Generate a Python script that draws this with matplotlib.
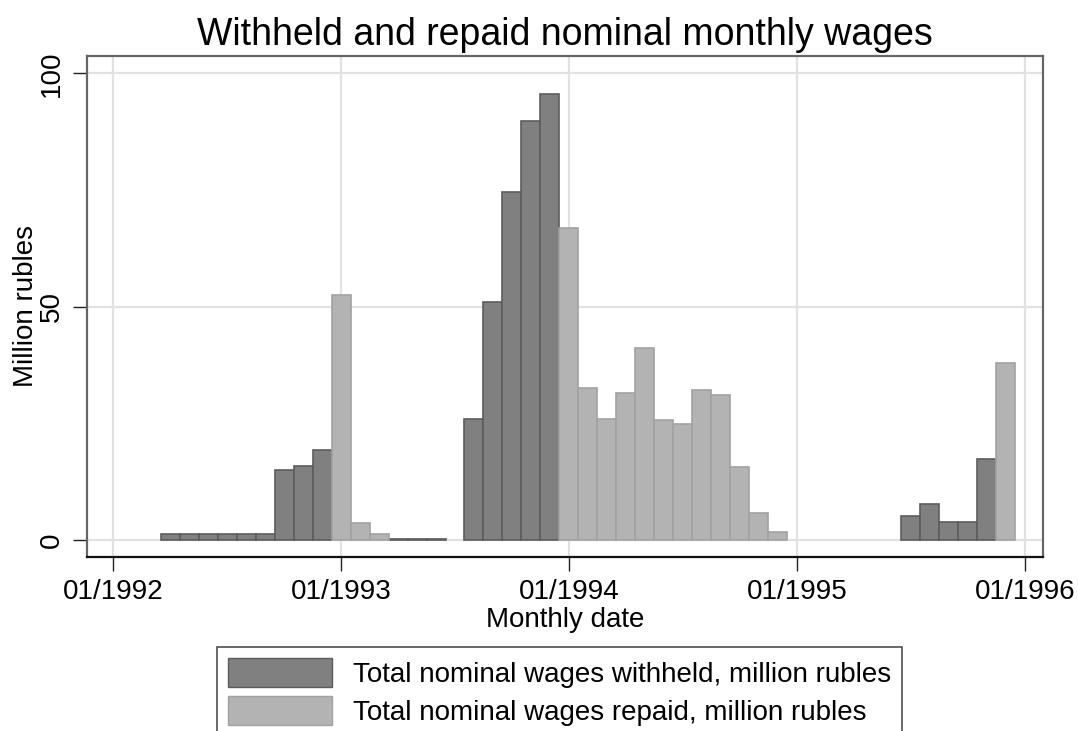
import numpy as np
import matplotlib
matplotlib.use("Agg")
import matplotlib.pyplot as plt
from matplotlib.patches import Patch

plt.rcParams['font.family'] = ['Liberation Sans', 'DejaVu Sans']

# monthly data, million rubles
withheld_months = ['1992-04', '1992-05', '1992-06', '1992-07', '1992-08', '1992-09',
                   '1992-10', '1992-11', '1992-12',
                   '1993-04', '1993-05', '1993-06',
                   '1993-08', '1993-09', '1993-10', '1993-11', '1993-12',
                   '1995-07', '1995-08', '1995-09', '1995-10', '1995-11']
withheld_vals = [1.3, 1.3, 1.3, 1.3, 1.3, 1.3,
                 15.1, 15.8, 19.3,
                 0.2, 0.2, 0.2,
                 25.9, 51.0, 74.7, 89.9, 95.7,
                 5.1, 7.7, 3.9, 3.9, 17.3]

repaid_months = ['1993-01', '1993-02', '1993-03',
                 '1994-01', '1994-02', '1994-03', '1994-04', '1994-05', '1994-06',
                 '1994-07', '1994-08', '1994-09', '1994-10', '1994-11', '1994-12',
                 '1995-12']
repaid_vals = [52.5, 3.7, 1.35,
               66.9, 32.7, 26.0, 31.6, 41.2, 25.7,
               25.0, 32.2, 31.1, 15.6, 5.8, 1.85,
               37.9]

tick_years = [1992, 1993, 1994, 1995, 1996]


def month_index(s):
    # months since 01/1992
    y, m = s.split('-')
    return (int(y) - 1992) * 12 + int(m) - 1


xw = np.array([month_index(m) for m in withheld_months])
xr = np.array([month_index(m) for m in repaid_months])

c_with, e_with = '#808080', '#5c5c5c'
c_rep, e_rep = '#b3b3b3', '#a2a2a2'

fig = plt.figure(figsize=(10.78, 7.31), dpi=100)
ax = fig.add_axes([87 / 1078, 1 - 557 / 731, (1043 - 87) / 1078, (557 - 55.7) / 731])

ax.bar(xw, withheld_vals, width=1.0, color=c_with, edgecolor=e_with, linewidth=1.2, zorder=3)
ax.bar(xr, repaid_vals, width=1.0, color=c_rep, edgecolor=e_rep, linewidth=1.2, zorder=3)

ax.set_xlim(-1.37, 48.95)
ax.set_ylim(-3.6, 103.8)

xt = [(y - 1992) * 12 for y in tick_years]
ax.set_xticks(xt)
ax.set_xticklabels([f"01/{y}" for y in tick_years], fontsize=20)
ax.set_yticks([0, 50, 100])
ax.set_yticklabels(['0', '50', '100'], fontsize=20, rotation=90, va='center')
ax.tick_params(axis='both', length=10, width=1, color='#222222', pad=6)

ax.grid(True, color='#e2e2e2', linewidth=1.6, zorder=0)
ax.set_axisbelow(True)

for s in ax.spines.values():
    s.set_color('#666666')
    s.set_linewidth(1.6)
ax.spines['bottom'].set_color('#111111')

ax.set_xlabel('Monthly date', fontsize=20, labelpad=1)
ax.set_ylabel('Million rubles', fontsize=20, labelpad=0)
ax.set_title('Withheld and repaid nominal monthly wages', fontsize=27, pad=8)

handles = [Patch(facecolor=c_with, edgecolor=e_with, label='Total nominal wages withheld, million rubles'),
           Patch(facecolor=c_rep, edgecolor=e_rep, label='Total nominal wages repaid, million rubles')]
leg = fig.legend(handles=handles, loc='upper left', bbox_to_anchor=(217 / 1078, 1 - 647 / 731),
                 fontsize=20, frameon=True, fancybox=False, edgecolor='#222222',
                 handlelength=3.75, handleheight=1.2, labelspacing=0.3, borderpad=0.4,
                 handletextpad=0.75, borderaxespad=0)
leg.get_frame().set_linewidth(1.2)

fig.savefig('out.png', dpi=100)
